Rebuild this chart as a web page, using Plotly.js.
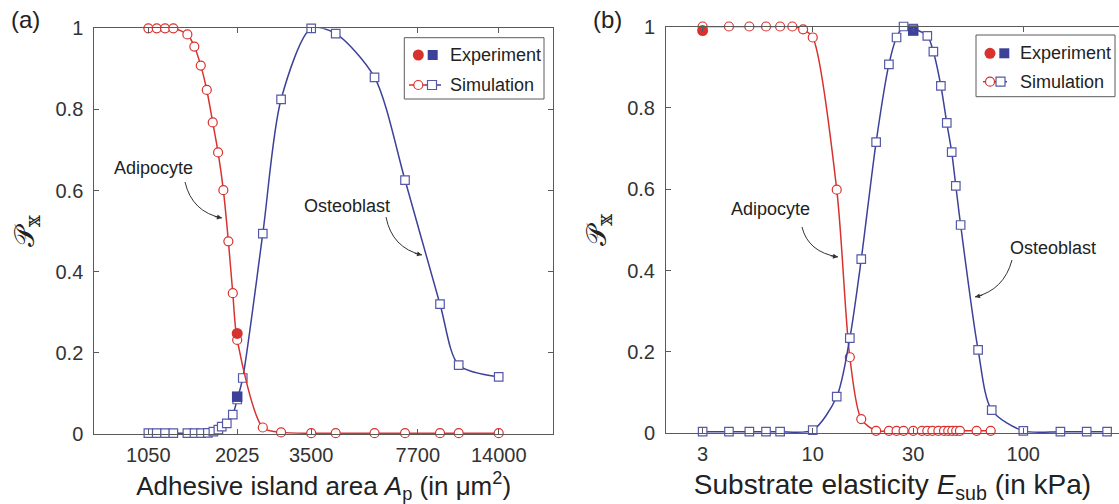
<!DOCTYPE html>
<html>
<head>
<meta charset="utf-8">
<script src="https://cdn.plot.ly/plotly-3.0.1.min.js"></script>
<style>html,body{margin:0;padding:0;background:#fff;}#chart{width:1119px;height:504px;}</style>
</head>
<body>
<div id="chart"></div>
<script>
// ---------- Data (a): adhesive island area ----------
const areaAdipoX = [1050,1117,1188,1263,1401,1475,1547,1617,1690,1758,1828,1897,1960,2025,2447,2801,3500,4195,5590,7003,9071,10415,14000];
const areaAdipoY = [1,1,1,1,0.985,0.955,0.908,0.848,0.768,0.694,0.601,0.475,0.347,0.232,0.016,0.004,0.002,0.002,0.002,0.002,0.002,0.002,0.002];
const areaOsteoX = [1050,1117,1188,1263,1401,1477,1550,1630,1698,1762,1806,1875,1960,2025,2110,2447,2801,3500,4195,5590,7003,9071,10415,14000];
const areaOsteoY = [0.002,0.002,0.002,0.002,0.002,0.002,0.002,0.003,0.006,0.011,0.018,0.026,0.048,0.085,0.138,0.494,0.825,1.0,0.987,0.879,0.626,0.320,0.170,0.141];
const areaExpX = [2025];
const areaExpAdipo = [0.248];
const areaExpOsteo = [0.092];
const areaTicks = [1050,2025,3500,7700,14000];
const areaTickText = ['1050','2025','3500','7700','14000'];

// ---------- Data (b): substrate elasticity ----------
const elasAdipoX = [3,4,5,6,7,8,9,10,13,15,17,20,23,25,27,30,33,35,37,39.5,42,44,46,48,50,60,70];
const elasAdipoY = [1,1,1,1,1,1,0.993,0.973,0.599,0.187,0.035,0.006,0.006,0.006,0.006,0.006,0.006,0.006,0.006,0.006,0.006,0.006,0.006,0.006,0.006,0.006,0.006];
const elasOsteoX = [3,4,5,6,7,10,13,15,17,20,23,25,27,30,35,37.4,40.6,43.3,45.7,47.8,50.4,61,70.8,100,150,200,250];
const elasOsteoY = [0.004,0.004,0.004,0.004,0.004,0.008,0.09,0.234,0.428,0.716,0.907,0.973,1.0,0.995,0.977,0.938,0.854,0.763,0.691,0.608,0.512,0.205,0.057,0.006,0.004,0.004,0.004];
const elasExpAdipoX = [3];
const elasExpAdipoY = [0.99];
const elasExpOsteoX = [30];
const elasExpOsteoY = [0.99];
const elasTicks = [3,10,30,100];
const elasTickText = ['3','10','30','100'];
const yTicks = [0,0.2,0.4,0.6,0.8,1];

// ---------- Styling ----------
const RED = '#d8322e';
const BLUE = '#3c4199';
const SQ = '#5458a6';
const AX = '#5a5a5a';
const FONT = 'Liberation Sans, Arial, Helvetica, sans-serif';
const W = 1119, H = 504, MT = 26, MB = 70;
const PH = H - MT - MB;
const px = v => v / W;
const py = v => (H - MB - v) / PH;

function simTrace(x, y, color, symbol, xa, ya, mcolor) {
  return {x, y, xaxis: xa, yaxis: ya, type: 'scatter', mode: 'lines+markers', cliponaxis: false,
    line: {color, width: 1.5, shape: 'spline', smoothing: 0.8},
    marker: {symbol, size: symbol === 'circle' ? 9 : 8.5, color: '#ffffff', line: {color: mcolor || color, width: 1.2}},
    showlegend: false, hoverinfo: 'skip'};
}
function expTrace(x, y, color, symbol, xa, ya) {
  return {x, y, xaxis: xa, yaxis: ya, type: 'scatter', mode: 'markers', cliponaxis: false,
    marker: {symbol, size: symbol === 'circle' ? 11 : 10.5, color, line: {width: 0}},
    showlegend: false, hoverinfo: 'skip'};
}

const traces = [
  simTrace(areaOsteoX, areaOsteoY, BLUE, 'square', 'x', 'y', SQ),
  simTrace(areaAdipoX, areaAdipoY, RED, 'circle', 'x', 'y'),
  expTrace(areaExpX, areaExpAdipo, RED, 'circle', 'x', 'y'),
  expTrace(areaExpX, areaExpOsteo, BLUE, 'square', 'x', 'y'),
  simTrace(elasAdipoX, elasAdipoY, RED, 'circle', 'x2', 'y2'),
  simTrace(elasOsteoX, elasOsteoY, BLUE, 'square', 'x2', 'y2', SQ),
  expTrace(elasExpAdipoX, elasExpAdipoY, RED, 'circle', 'x2', 'y2'),
  expTrace(elasExpOsteoX, elasExpOsteoY, BLUE, 'square', 'x2', 'y2')
];

const baseX = {type: 'log', showgrid: false, zeroline: false, showline: true, linecolor: AX, linewidth: 1,
  ticks: 'inside', ticklen: 5, tickcolor: AX, tickfont: {family: FONT, size: 20, color: '#333'},
  ticklabelstandoff: 3, fixedrange: true};
const baseY = {range: [0, 1], tickvals: yTicks, showgrid: false, zeroline: false, showline: true, linecolor: AX, linewidth: 1,
  ticks: 'inside', ticklen: 5, tickcolor: AX, tickfont: {family: FONT, size: 20, color: '#333'},
  ticklabelstandoff: 6, fixedrange: true};

const yTitle = {text: '𝒫<sub>𝕩</sub>', font: {family: 'DejaVu Serif, DejaVu Sans, serif', size: 28, color: '#222'}, standoff: 12};

// legend shapes
function legendShapes(box, expY, simY, cx, sqx, sqx2, lineX0, lineX1, lineMid) {
  const r = 5.5, h = 5, h2 = 4.5;
  return [
    {type: 'rect', xref: 'paper', yref: 'paper', x0: px(box[0]), x1: px(box[1]), y0: py(box[2]), y1: py(box[3]),
      line: {color: AX, width: 1}, fillcolor: '#fff', layer: 'above'},
    {type: 'circle', xref: 'paper', yref: 'paper', x0: px(cx - r), x1: px(cx + r), y0: py(expY - r), y1: py(expY + r),
      fillcolor: RED, line: {width: 0}, layer: 'above'},
    {type: 'rect', xref: 'paper', yref: 'paper', x0: px(sqx - h), x1: px(sqx + h), y0: py(expY - h), y1: py(expY + h),
      fillcolor: BLUE, line: {width: 0}, layer: 'above'},
    {type: 'line', xref: 'paper', yref: 'paper', x0: px(lineX0), x1: px(lineMid), y0: py(simY), y1: py(simY),
      line: {color: RED, width: 1.5}, layer: 'above'},
    {type: 'line', xref: 'paper', yref: 'paper', x0: px(lineMid), x1: px(lineX1), y0: py(simY), y1: py(simY),
      line: {color: BLUE, width: 1.5}, layer: 'above'},
    {type: 'circle', xref: 'paper', yref: 'paper', x0: px(cx - 4.5), x1: px(cx + 4.5), y0: py(simY - 4.5), y1: py(simY + 4.5),
      fillcolor: '#fff', line: {color: RED, width: 1.2}, layer: 'above'},
    {type: 'rect', xref: 'paper', yref: 'paper', x0: px(sqx2 - h2), x1: px(sqx2 + h2), y0: py(simY - h2), y1: py(simY + h2),
      fillcolor: '#fff', line: {color: SQ, width: 1.2}, layer: 'above'}
  ];
}
function curve(x0, y0, cx, cy, x1, y1) {
  return {type: 'path', xref: 'paper', yref: 'paper',
    path: `M ${px(x0)} ${py(y0)} Q ${px(cx)} ${py(cy)} ${px(x1)} ${py(y1)}`,
    line: {color: '#333', width: 1}, layer: 'above'};
}
function head(x1, y1, cx, cy) {
  const dx = x1 - cx, dy = y1 - cy, L = Math.hypot(dx, dy);
  return {xref: 'paper', yref: 'paper', x: px(x1), y: py(y1), ax: -dx / L * 9, ay: -dy / L * 9,
    text: '', showarrow: true, arrowhead: 2, arrowsize: 1, arrowwidth: 1, arrowcolor: '#333', standoff: 0};
}
function label(text, x, y, size, anchor) {
  return {xref: 'paper', yref: 'paper', x: px(x), y: py(y), text, showarrow: false,
    xanchor: anchor || 'center', yanchor: 'middle', font: {family: FONT, size: size, color: '#222'}};
}

const shapes = [
  ...legendShapes([404.3, 544, 37.7, 99], 55, 85, 418.3, 432.7, 432, 409, 441, 425),
  ...legendShapes([976, 1115, 35, 96.7], 53.3, 81.7, 990, 1004.3, 1000.5, 983, 1007, 995),
  curve(185, 182, 192, 212, 222, 218),
  curve(386, 217, 392, 248, 422, 255),
  curve(802, 227, 808, 252, 838, 257),
  curve(1012, 260, 1004, 290, 975, 297)
];

const annotations = [
  label('Experiment', 447.7, 55, 18, 'left'),
  label('Simulation', 447.7, 85, 18, 'left'),
  label('Experiment', 1018.3, 53.3, 18, 'left'),
  label('Simulation', 1018.3, 81.7, 18, 'left'),
  label('Adipocyte', 153, 168, 18),
  label('Osteoblast', 347, 206, 18),
  label('Adipocyte', 770, 209, 18),
  label('Osteoblast', 1053, 247.5, 18),
  label('(a)', 25, 19, 24),
  label('(b)', 607, 19, 24),
  head(222, 218, 192, 212),
  head(422, 255, 392, 248),
  head(838, 257, 808, 252),
  head(975, 297, 1004, 290)
];

const layout = {
  width: W, height: H, margin: {l: 0, r: 0, t: MT, b: MB, pad: 0},
  paper_bgcolor: '#fff', plot_bgcolor: 'rgba(0,0,0,0)', showlegend: false,
  font: {family: FONT},
  xaxis: Object.assign({}, baseX, {domain: [94.3 / W, 553 / W], range: [Math.log10(704), Math.log10(20915)],
    tickvals: areaTicks, ticktext: areaTickText, mirror: 'ticks', anchor: 'y',
    title: {text: 'Adhesive island area <i>A</i><sub>p</sub> (in μm<sup>2</sup>)', font: {family: FONT, size: 26, color: '#222'}, standoff: 12}}),
  yaxis: Object.assign({}, baseY, {domain: [0, py(28.3)], anchor: 'x', mirror: 'ticks', title: yTitle}),
  xaxis2: Object.assign({}, baseX, {domain: [666 / W, 1], range: [Math.log10(2.01), Math.log10(284.7)],
    tickvals: elasTicks, ticktext: elasTickText, mirror: 'ticks', anchor: 'y2',
    title: {text: 'Substrate elasticity <i>E</i><sub>sub</sub> (in kPa)', font: {family: FONT, size: 28, color: '#222'}, standoff: 10}}),
  yaxis2: Object.assign({}, baseY, {domain: [py(433.3), py(26.5)], anchor: 'x2', mirror: false, title: yTitle}),
  shapes, annotations
};

Plotly.newPlot('chart', traces, layout, {staticPlot: true, displayModeBar: false});
</script>
</body>
</html>
